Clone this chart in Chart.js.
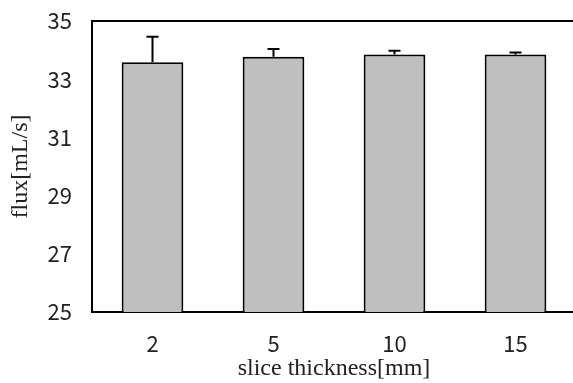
<!DOCTYPE html>
<html>
<head>
<meta charset="utf-8">
<script src="https://cdn.jsdelivr.net/npm/chart.js@4/dist/chart.umd.min.js"></script>
<style>
  html, body { margin: 0; padding: 0; background: #fff; overflow: hidden; }
  #wrap { width: 573px; height: 383px; overflow: hidden; }
</style>
</head>
<body>
<div id="wrap"><canvas id="barChart" width="576" height="383"></canvas></div>
<script>
'use strict'

// slice thickness categories and measured flux
var thickness = ['2', '5', '10', '15'];
var fluxMean = [33.58, 33.77, 33.85, 33.85];
var fluxSD = [0.88, 0.27, 0.13, 0.07];
var yTicks = [25, 27, 29, 31, 33, 35];

// upper error bars drawn on top of each bar
const errorBars = {
  id: 'errorBars',
  afterDatasetsDraw(chart) {
    const ctx = chart.ctx;
    const yScale = chart.scales.y;
    const meta = chart.getDatasetMeta(0);
    ctx.save();
    ctx.strokeStyle = '#000';
    ctx.lineWidth = 2;
    meta.data.forEach(function (bar, i) {
      let top = yScale.getPixelForValue(fluxMean[i] + fluxSD[i]);
      ctx.beginPath();
      ctx.moveTo(bar.x, bar.y);
      ctx.lineTo(bar.x, top);
      ctx.moveTo(bar.x - 6, top);
      ctx.lineTo(bar.x + 6, top);
      ctx.stroke();
    });
    ctx.restore();
  }
};

const ctx = document.getElementById('barChart').getContext('2d');
const barChart = new Chart(ctx, {
  type: 'bar',
  data: {
    labels: thickness,
    datasets: [{
      data: fluxMean,
      backgroundColor: '#BFBFBF',
      borderColor: '#000',
      borderWidth: 2,
      borderSkipped: false,
      barPercentage: 0.51,
      categoryPercentage: 1
    }]
  },
  options: {
    responsive: false,
    animation: false,
    layout: { padding: { top: 21, right: 0, left: 0, bottom: 0 } },
    plugins: {
      legend: { display: false },
      tooltip: { enabled: false }
    },
    scales: {
      x: {
        grid: { display: false, drawTicks: false },
        border: { color: '#000', width: 2 },
        ticks: {
          color: '#222',
          padding: 18,
          font: { family: '"Noto Sans CJK JP", "Noto Sans", sans-serif', size: 22 }
        },
        title: {
          display: true,
          text: 'slice thickness[mm]',
          color: '#222',
          padding: { top: 0, bottom: 0 },
          font: { family: '"Liberation Serif", serif', size: 24 }
        },
        afterFit: function (scale) { scale.height = 71; }
      },
      y: {
        min: 25,
        max: 35,
        afterBuildTicks: function (scale) {
          scale.ticks = yTicks.map(function (v) { return { value: v }; });
        },
        grid: {
          drawTicks: false,
          lineWidth: 2,
          color: function (c) { return c.tick && c.tick.value === 35 ? '#000' : 'rgba(0,0,0,0)'; }
        },
        border: { color: '#000', width: 2 },
        ticks: {
          color: '#222',
          padding: 20,
          font: { family: '"Noto Sans CJK JP", "Noto Sans", sans-serif', size: 22 }
        },
        title: {
          display: true,
          text: 'flux[mL/s]',
          color: '#222',
          padding: { top: 6, bottom: 0 },
          font: { family: '"Liberation Serif", serif', size: 24 }
        },
        afterFit: function (scale) {
          scale.width = 92;
          scale.paddingTop = 0;
          scale.paddingBottom = 0;
        }
      }
    }
  },
  plugins: [errorBars]
});
</script>
</body>
</html>
